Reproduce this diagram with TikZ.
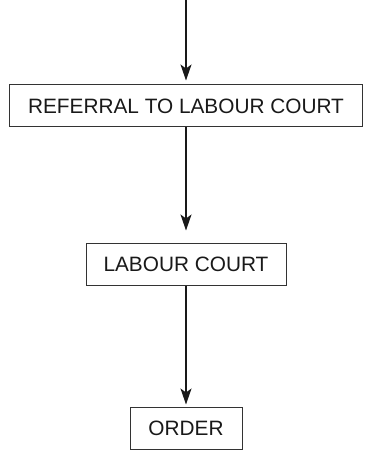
\documentclass[tikz,border=0pt]{standalone}
\usepackage{fontspec}
\setmainfont{Liberation Sans}
\usetikzlibrary{arrows.meta}
\begin{document}
\begin{tikzpicture}[x=1pt,y=1pt,
  box/.style={draw=black!80, line width=1pt, inner sep=0pt, text=black!90,
    font=\fontsize{20.8}{24}\selectfont},
  arr/.style={draw=black!90, line width=1.3pt,
    -{Stealth[length=16pt,width=11pt,inset=4pt]}}]
\useasboundingbox (0,0) rectangle (367,-454);
\coordinate (top) at (186,0);
\node[box, minimum width=353pt, minimum height=42pt] (b1) at (186,-106) {REFERRAL TO LABOUR COURT};
\node[box, minimum width=200pt, minimum height=42pt] (b2) at (186,-264) {LABOUR COURT};
\node[box, minimum width=112pt, minimum height=42pt] (b3) at (186,-428) {ORDER};
\draw[arr, shorten >=4pt] (top) -- (b1.north);
\draw[arr, shorten >=12pt] (b1.south) -- (b2.north);
\draw[arr, shorten >=2pt] (b2.south) -- (b3.north);
\end{tikzpicture}
\end{document}
